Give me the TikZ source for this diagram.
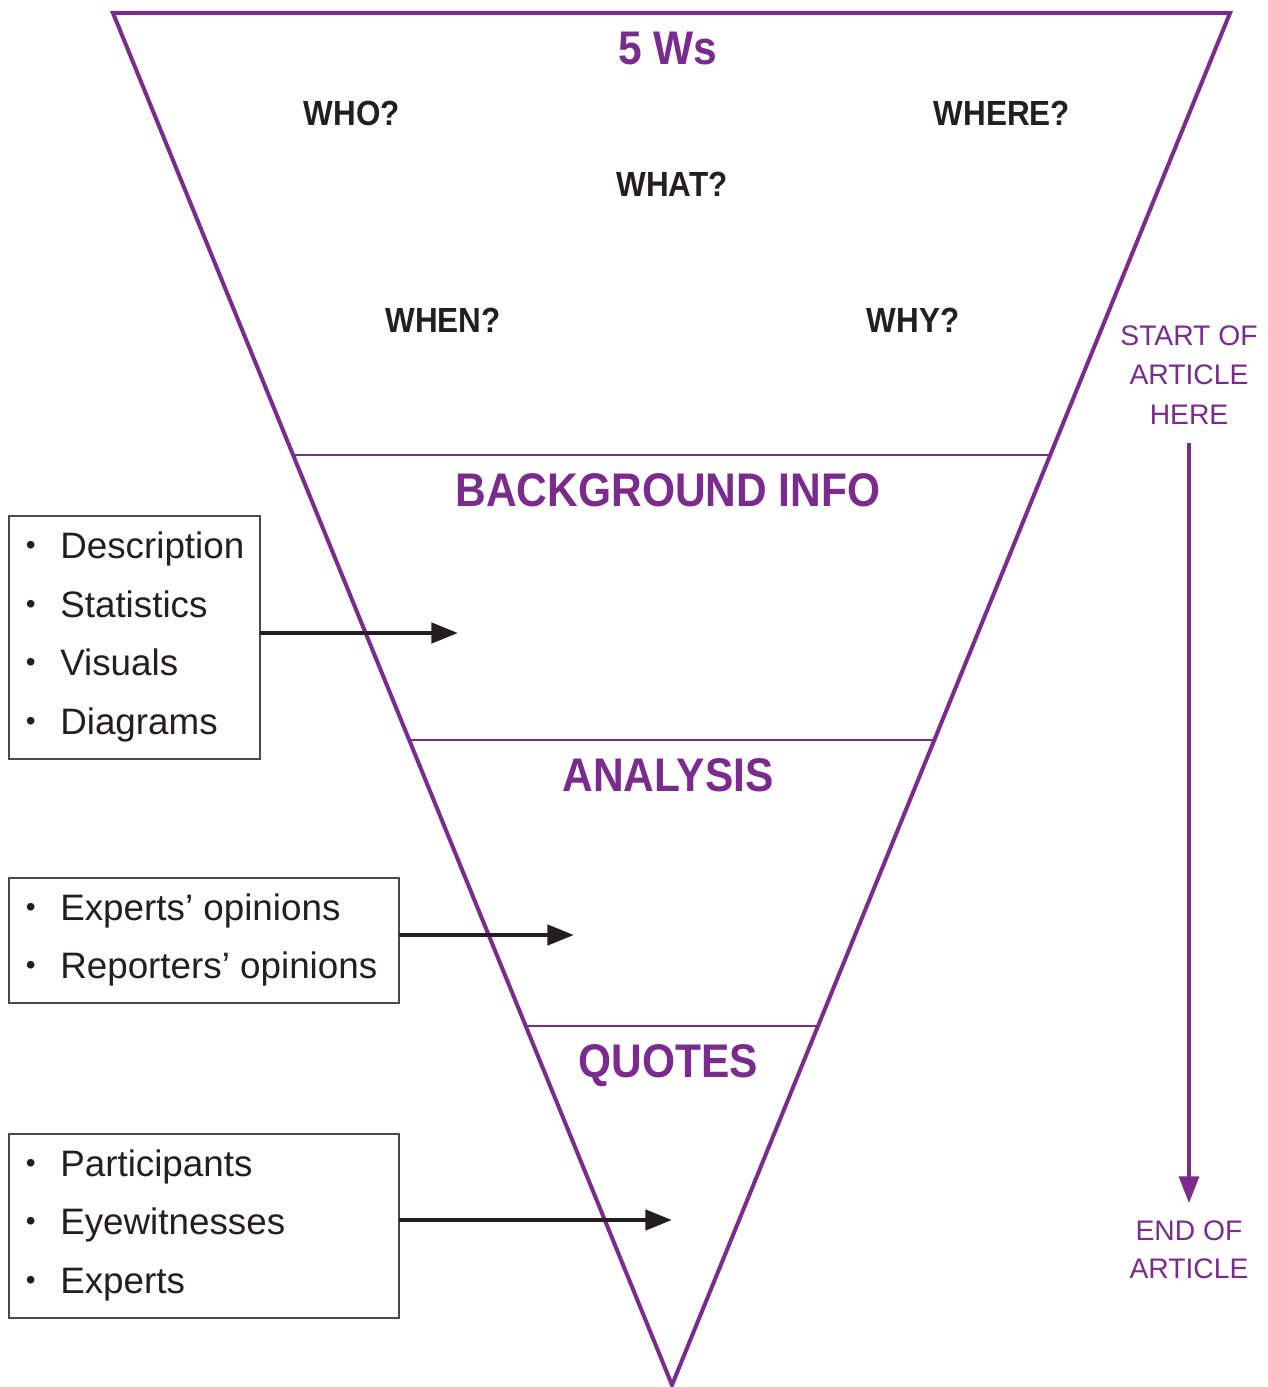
\documentclass[tikz,border=0pt]{standalone}
\usepackage{fontspec}
\setmainfont{Liberation Sans}
\newfontfamily\titlefont[FakeStretch=0.9]{Liberation Sans}
\usetikzlibrary{arrows.meta,calc}
\definecolor{pur}{HTML}{7B2A8E}
\definecolor{ink}{HTML}{231F20}
\definecolor{boxline}{HTML}{4A4A4A}
\tikzset{
  px/.style={x=0.75pt,y=-0.75pt},
  tri/.style={draw=pur,line width=3pt,line join=miter},
  sect/.style={draw=pur,line width=1.9pt},
  ttl/.style={anchor=base,inner sep=0,text=pur,font=\titlefont\bfseries\fontsize{35.4pt}{40pt}\selectfont},
  wq/.style={anchor=base,inner sep=0,text=ink,font=\titlefont\bfseries\fontsize{26.2pt}{30pt}\selectfont},
  side/.style={anchor=base,inner sep=0,text=pur,font=\fontsize{21.2pt}{25pt}\selectfont},
  item/.style={anchor=base west,inner sep=0,text=ink,font=\fontsize{27.6pt}{32pt}\selectfont},
  listbox/.style={draw=boxline,line width=1pt,outer sep=0,inner sep=0},
  arr/.style={draw=ink,line width=3.4pt,-{Triangle[length=20pt,width=15pt]}},
  parr/.style={draw=pur,line width=2.6pt,-{Triangle[length=20pt,width=15pt]}}
}
\newcommand{\bul}{\llap{\raisebox{2.3pt}{\fontsize{21pt}{21pt}\selectfont\textbullet}\hspace{18.5pt}}}
\begin{document}
\begin{tikzpicture}[px]
\useasboundingbox (0,0) rectangle (1267,1387);
% triangle
\coordinate (tl) at (113,13);
\coordinate (tr) at (1230,13);
\coordinate (ap) at (672,1385);
\draw[tri] (tl) -- (tr) -- (ap) -- cycle;
% section lines
\coordinate (l1) at ($(tl)!0.3222!(ap)$);
\coordinate (r1) at ($(tr)!0.3222!(ap)$);
\coordinate (l2) at ($(tl)!0.5299!(ap)$);
\coordinate (r2) at ($(tr)!0.5299!(ap)$);
\coordinate (l3) at ($(tl)!0.7383!(ap)$);
\coordinate (r3) at ($(tr)!0.7383!(ap)$);
\draw[sect] (l1) -- (r1);
\draw[sect] (l2) -- (r2);
\draw[sect] (l3) -- (r3);
% titles
\node[ttl] (t5w) at (668,65) {5 Ws};
\node[ttl] (tbg) at (668,506) {BACKGROUND INFO};
\node[ttl] (tan) at (668,791) {ANALYSIS};
\node[ttl] (tqu) at (668,1077) {QUOTES};
% questions
\node[wq] (who) at (352,126) {WHO?};
\node[wq] (where) at (1002,126) {WHERE?};
\node[wq] (what) at (672,197) {WHAT?};
\node[wq] (when) at (443,333) {WHEN?};
\node[wq] (why) at (913,333) {WHY?};
% side labels
\node[side] (s1) at (1189,345) {START OF};
\node[side] (s2) at (1189,384) {ARTICLE};
\node[side] (s3) at (1189,424) {HERE};
\node[side] (e1) at (1189,1240) {END OF};
\node[side] (e2) at (1189,1278) {ARTICLE};
\coordinate (pstart) at (1189,443);
\coordinate (pend) at (1189,1203);
\draw[parr] (pstart) -- (pend);
% boxes
\node[listbox,minimum width=188.25pt,minimum height=182.25pt] (b1) at (134.5,637.5) {};
\node[listbox,minimum width=292.5pt,minimum height=93.75pt] (b2) at (204,940.5) {};
\node[listbox,minimum width=292.5pt,minimum height=138pt] (b3) at (204,1226) {};
% box items
\node[item] (i11) at (60,558) {\bul Description};
\node[item] (i12) at (60,617) {\bul Statistics};
\node[item] (i13) at (60,675) {\bul Visuals};
\node[item] (i14) at (60,734) {\bul Diagrams};
\node[item] (i21) at (60,920) {\bul Experts’ opinions};
\node[item] (i22) at (60,978) {\bul Reporters’ opinions};
\node[item] (i31) at (60,1176) {\bul Participants};
\node[item] (i32) at (60,1234) {\bul Eyewitnesses};
\node[item] (i33) at (60,1293) {\bul Experts};
% arrows
\coordinate (a1) at (458,633);
\coordinate (a2) at (574,935);
\coordinate (a3) at (672,1220);
\draw[arr] (b1.east |- a1) -- (a1);
\draw[arr] (b2.east |- a2) -- (a2);
\draw[arr] (b3.east |- a3) -- (a3);
\end{tikzpicture}
\end{document}
